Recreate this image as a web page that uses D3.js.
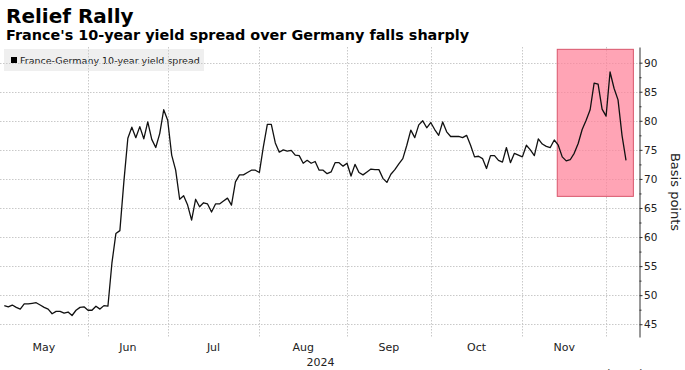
<!DOCTYPE html>
<html>
<head>
<meta charset="utf-8">
<script src="https://cdn.jsdelivr.net/npm/d3@7"></script>
<style>
    body { margin: 0; background: #fff; }
    svg { display: block; }
    .tick-label { font-family: 'DejaVu Sans', sans-serif; font-size: 10.5px; fill: #222; }
</style>
</head>
<body>
<svg id="chart" width="685" height="370"></svg>
<script>
// France-Germany 10y spread, one value per business day from 3 May 2024
const startDate = new Date(2024, 4, 3);
const spread = [
    48.2, 48.0, 48.3, 47.9, 47.6, 48.5, 48.5, 48.6, 48.7, 48.3,
    47.9, 47.6, 46.8, 47.2, 47.2, 46.9, 47.1, 46.5, 47.4, 47.9,
    48.0, 47.4, 47.4, 48.1, 47.6, 48.2, 48.1, 55.5, 60.6, 61.1,
    69.5, 77.0, 78.9, 77.1, 79.0, 76.9, 79.8, 76.8, 75.4, 77.8,
    81.9, 80.1, 74.1, 71.5, 66.5, 67.1, 65.5, 62.9, 66.5, 65.2,
    65.9, 65.7, 64.3, 65.7, 65.7, 66.2, 66.7, 65.5, 69.5, 70.7,
    70.7, 71.1, 71.5, 71.5, 71.1, 75.5, 79.4, 79.4, 76.2, 74.6,
    75.0, 74.8, 74.9, 74.1, 74.0, 72.7, 73.2, 72.7, 73.0, 71.5,
    71.5, 70.9, 71.2, 72.8, 72.8, 72.2, 72.7, 70.5, 72.5, 71.1,
    70.7, 71.2, 71.7, 71.6, 71.6, 70.1, 69.4, 70.8, 71.6, 72.6,
    73.5, 75.8, 78.4, 77.1, 79.3, 80.0, 78.8, 79.7, 78.5, 77.5,
    79.8, 78.1, 77.3, 77.3, 77.3, 77.1, 77.5, 75.8, 73.8, 73.9,
    73.5, 71.8, 74.0, 74.0, 73.2, 72.9, 75.4, 72.8, 74.4, 74.1,
    73.8, 75.8, 75.0, 74.0, 76.9, 76.0, 75.6, 75.4, 76.7, 75.8,
    73.8, 73.1, 73.3, 74.4, 76.1, 78.5, 80.1, 81.9, 86.5, 86.3,
    82.0, 80.8, 88.4, 85.6, 83.6, 77.5, 73.2
];
const monthLabels = ['May', 'Jun', 'Jul', 'Aug', 'Sep', 'Oct', 'Nov'];
const yearLabel = '2024';
const yTicks = [45, 50, 55, 60, 65, 70, 75, 80, 85, 90];
const yMinorTicks = [47.5, 52.5, 57.5, 62.5, 67.5, 72.5, 77.5, 82.5, 87.5];
// shaded box, in business-day index and basis points
const highlightX = [138.75, 157.85];
const highlightY = [67.0, 92.3];

const plotLeft = 0;
const axisX = 639;

const svg = d3.select('#chart');

const dates = d3.timeDay.range(startDate, new Date(2024, 11, 31))
    .filter(d => d.getDay() % 6 !== 0)
    .slice(0, spread.length);

const x = d3.scaleLinear().domain([0, spread.length - 1]).range([4.3, 626]);
const y = d3.scaleLinear().domain([42.8, 92.7]).range([337, 47]);

// month starts (first business day of each month)
const monthStarts = [];
dates.forEach((d, i) => {
    if (i > 0 && d.getMonth() !== dates[i - 1].getMonth()) monthStarts.push(i);
});

// titles
svg.append('text')
    .attr('x', 6).attr('y', 23)
    .style('font-family', "'DejaVu Sans', sans-serif")
    .style('font-weight', 'bold')
    .style('font-size', '20px')
    .attr('fill', '#000')
    .text('Relief Rally');

svg.append('text')
    .attr('x', 6).attr('y', 39.5)
    .style('font-family', "'DejaVu Sans', sans-serif")
    .style('font-weight', 'bold')
    .style('font-size', '14.4px')
    .attr('fill', '#000')
    .text("France's 10-year yield spread over Germany falls sharply");

// legend box (under the grid)
const legend = svg.append('g');
legend.append('rect')
    .attr('x', 4).attr('y', 49).attr('width', 200).attr('height', 22)
    .attr('fill', '#efefef');
legend.append('rect')
    .attr('x', 11).attr('y', 57).attr('width', 6).attr('height', 6)
    .attr('fill', '#000');
legend.append('text')
    .attr('x', 20).attr('y', 63.5)
    .style('font-family', "'DejaVu Sans', sans-serif")
    .style('font-size', '9.5px')
    .attr('fill', '#222')
    .text('France-Germany 10-year yield spread');

// grid
const grid = svg.append('g')
    .attr('stroke', '#c9c9c9')
    .attr('stroke-width', 1)
    .attr('stroke-dasharray', '1.5,1.5');

grid.selectAll('line.h')
    .data(yTicks)
    .enter().append('line')
    .attr('class', 'h')
    .attr('x1', plotLeft).attr('x2', axisX)
    .attr('y1', d => Math.round(y(d)) + 0.5)
    .attr('y2', d => Math.round(y(d)) + 0.5);

grid.selectAll('line.v')
    .data(monthStarts)
    .enter().append('line')
    .attr('class', 'v')
    .attr('x1', d => Math.round(x(d)) + 0.5)
    .attr('x2', d => Math.round(x(d)) + 0.5)
    .attr('y1', y.range()[1]).attr('y2', y.range()[0]);

// highlight box
svg.append('rect')
    .attr('x', x(highlightX[0]))
    .attr('y', y(highlightY[1]))
    .attr('width', x(highlightX[1]) - x(highlightX[0]))
    .attr('height', y(highlightY[0]) - y(highlightY[1]))
    .attr('fill', '#ff8198')
    .attr('fill-opacity', 0.72)
    .attr('stroke', '#d9566c')
    .attr('stroke-width', 1);

// spread line
const line = d3.line()
    .x((d, i) => x(i))
    .y(d => y(d));

svg.append('path')
    .datum(spread)
    .attr('fill', 'none')
    .attr('stroke', '#111')
    .attr('stroke-width', 1.3)
    .attr('stroke-linejoin', 'round')
    .attr('d', line);

// right axis
const yAxis = svg.append('g')
    .attr('transform', `translate(${axisX + 0.5},0)`)
    .call(d3.axisRight(y).tickValues(yTicks).tickSize(3).tickSizeOuter(0).tickPadding(1.5));

yAxis.select('.domain').attr('stroke', '#333');
yAxis.selectAll('.tick line').attr('stroke', '#333');
yAxis.selectAll('.tick text')
    .attr('class', 'tick-label')
    .attr('font-family', null)
    .attr('font-size', null)
    .attr('fill', null);

svg.append('g')
    .attr('transform', `translate(${axisX + 0.5},0)`)
    .call(d3.axisRight(y).tickValues(yMinorTicks).tickSize(2).tickSizeOuter(0).tickFormat(''))
    .call(g => g.select('.domain').remove())
    .selectAll('.tick line').attr('stroke', '#333');

svg.append('text')
    .attr('transform', 'translate(671,192) rotate(90)')
    .attr('text-anchor', 'middle')
    .style('font-family', "'DejaVu Sans', sans-serif")
    .style('font-size', '13px')
    .attr('fill', '#222')
    .text('Basis points');

// month labels, centred between month boundaries
const bounds = [plotLeft].concat(monthStarts.map(i => x(i)));
svg.selectAll('text.month')
    .data(monthLabels)
    .enter().append('text')
    .attr('class', 'month tick-label')
    .attr('x', (d, i) => (bounds[i] + bounds[i + 1]) / 2)
    .attr('y', 350.7)
    .attr('text-anchor', 'middle')
    .style('font-size', '11px')
    .text(d => d);

svg.append('text')
    .attr('class', 'tick-label')
    .attr('x', (plotLeft + axisX) / 2 + 1)
    .attr('y', 365.7)
    .attr('text-anchor', 'middle')
    .style('font-size', '11px')
    .text(yearLabel);

// source mark, mostly cut off by the frame
svg.append('text')
    .attr('x', 598).attr('y', 379)
    .style('font-family', "'DejaVu Sans', sans-serif")
    .style('font-size', '13px')
    .attr('fill', '#555')
    .text('Bloomberg');
</script>
</body>
</html>
